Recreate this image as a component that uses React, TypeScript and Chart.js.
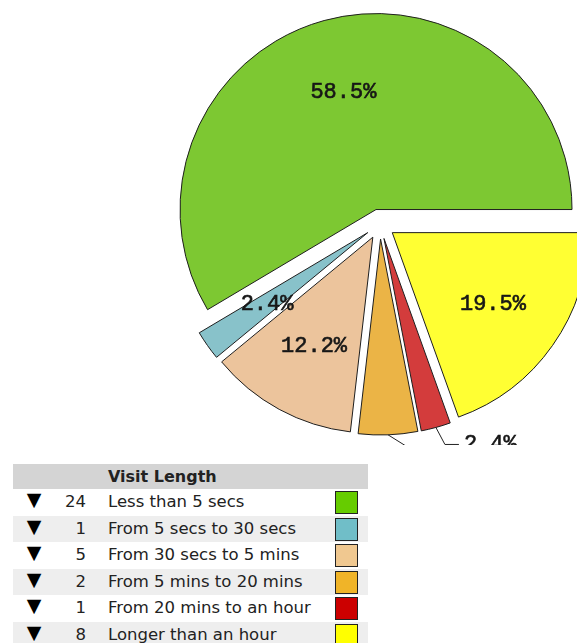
import React, { useEffect, useRef } from "react";
import { Chart, registerables } from "chart.js";

Chart.register(...registerables);

const title = "Visit Length";
const categories = [
  "Less than 5 secs",
  "From 5 secs to 30 secs",
  "From 30 secs to 5 mins",
  "From 5 mins to 20 mins",
  "From 20 mins to an hour",
  "Longer than an hour",
];
const visits = [24, 1, 5, 2, 1, 8];
const pieColors = ["#7dc832", "#88c2ca", "#ecc49c", "#ebb446", "#d33c3c", "#ffff33"];
const legendColors = ["#66cc00", "#70bec8", "#f0c890", "#f0b428", "#cc0000", "#ffff00"];
const labelOutside = [false, false, false, true, true, false];
// leader line bend (dx, dy) from the slice edge for outside labels
const leaderBend: Array<[number, number] | null> = [null, null, null, [32, 20], [9, 17], null];
const EXPLODE = 15; // px every slice is pulled out along its bisector

const total = visits.reduce((a, b) => a + b, 0);
const pct = (v: number) => ((v / total) * 100).toFixed(1) + "%";

// pie is drawn counter-clockwise from 3 o'clock in the reference: reverse for Chart.js (clockwise)
const order = visits.map((_, i) => visits.length - 1 - i);

// draw every arc element pulled out by the same distance, with no radius change
const explodePlugin = {
  id: "explode",
  beforeDatasetDraw(chart: any, args: any) {
    const ctx = chart.ctx;
    const meta = args.meta;
    meta.data.forEach((arc: any) => {
      const { startAngle, endAngle } = arc.getProps(["startAngle", "endAngle"], true);
      const mid = (startAngle + endAngle) / 2;
      ctx.save();
      ctx.translate(Math.cos(mid) * EXPLODE, Math.sin(mid) * EXPLODE);
      arc.draw(ctx);
      ctx.restore();
    });
    return false;
  },
};

const labelPlugin = {
  id: "pieLabels",
  afterDatasetsDraw(chart: any) {
    const ctx = chart.ctx;
    const meta = chart.getDatasetMeta(0);
    ctx.save();
    ctx.font = '22px "Liberation Mono"';
    ctx.fillStyle = "#161616";
    ctx.textBaseline = "middle";
    meta.data.forEach((arc: any, j: number) => {
      const orig = order[j];
      const { x, y, startAngle, endAngle, outerRadius } = arc.getProps(
        ["x", "y", "startAngle", "endAngle", "outerRadius"],
        true
      );
      const R = outerRadius;
      const mid = (startAngle + endAngle) / 2;
      const cos = Math.cos(mid);
      const sin = Math.sin(mid);
      const cx = x + cos * EXPLODE;
      const cy = y + sin * EXPLODE;
      const text = pct(visits[orig]);
      let tx: number;
      let ty: number;
      if (!labelOutside[orig]) {
        ctx.textAlign = "center";
        tx = cx + cos * R * 0.628;
        ty = cy + sin * R * 0.628 + 1;
      } else {
        const bend = leaderBend[orig] || [10, 15];
        const ax = cx + cos * R;
        const ay = cy + sin * R;
        const ex = ax + bend[0];
        const ey = ay + bend[1];
        ctx.strokeStyle = "#222";
        ctx.lineWidth = 1;
        ctx.beginPath();
        ctx.moveTo(ax, ay);
        ctx.lineTo(ex, ey);
        ctx.lineTo(ex + 14, ey);
        ctx.stroke();
        ctx.textAlign = "left";
        tx = ex + 19;
        ty = ey;
      }
      ctx.strokeStyle = "#161616";
      ctx.lineWidth = 0.6;
      ctx.strokeText(text, tx, ty);
      ctx.fillText(text, tx, ty);
    });
    ctx.restore();
  },
};

function PieChart() {
  const ref = useRef<HTMLCanvasElement | null>(null);
  useEffect(() => {
    if (!ref.current) return;
    const chart = new Chart(ref.current, {
      type: "pie",
      data: {
        labels: order.map((i) => categories[i]),
        datasets: [
          {
            data: order.map((i) => visits[i]),
            backgroundColor: order.map((i) => pieColors[i]),
            borderColor: "#1e1e1e",
            borderWidth: 1,
          },
        ],
      },
      options: {
        animation: false,
        responsive: false,
        events: [],
        rotation: 90,
        radius: 196,
        layout: { padding: 0 },
        plugins: {
          legend: { display: false },
          tooltip: { enabled: false },
        },
      },
      plugins: [explodePlugin, labelPlugin],
    });
    return () => chart.destroy();
  }, []);
  return (
    <canvas
      ref={ref}
      width={600}
      height={600}
      style={{ position: "absolute", left: 80, top: -76 }}
    />
  );
}

const font = '"DejaVu Sans", Verdana, sans-serif';

function LegendTable() {
  const rowH = 26.5;
  return (
    <div
      style={{
        position: "absolute",
        left: 13,
        top: 464,
        width: 355,
        fontFamily: font,
        fontSize: 16.5,
        color: "#222",
      }}
    >
      <div
        style={{
          height: 25,
          background: "#d4d4d4",
          position: "relative",
          fontWeight: "bold",
          fontSize: 16,
        }}
      >
        <span style={{ position: "absolute", left: 95, top: 0, lineHeight: "25px" }}>{title}</span>
      </div>
      {categories.map((c, i) => (
        <div
          key={c}
          style={{
            height: rowH,
            background: i % 2 === 1 ? "#eeeeee" : "#ffffff",
            position: "relative",
            lineHeight: rowH + "px",
          }}
        >
          <span
            style={{
              position: "absolute",
              left: 0,
              top: -3,
              width: 42,
              textAlign: "center",
              fontSize: 19,
              color: "#000",
            }}
          >
            ▼
          </span>
          <span style={{ position: "absolute", right: 355 - 73, textAlign: "right" }}>{visits[i]}</span>
          <span style={{ position: "absolute", left: 95 }}>{c}</span>
          <div
            style={{
              position: "absolute",
              left: 322,
              top: 2,
              width: 21,
              height: 21,
              border: "1px solid #222",
              background: legendColors[i],
            }}
          />
        </div>
      ))}
    </div>
  );
}

export default function App() {
  return (
    <div>
      <div
        style={{
          position: "absolute",
          left: 0,
          top: 0,
          width: 577,
          height: 445,
          overflow: "hidden",
        }}
      >
        <PieChart />
      </div>
      <LegendTable />
    </div>
  );
}
